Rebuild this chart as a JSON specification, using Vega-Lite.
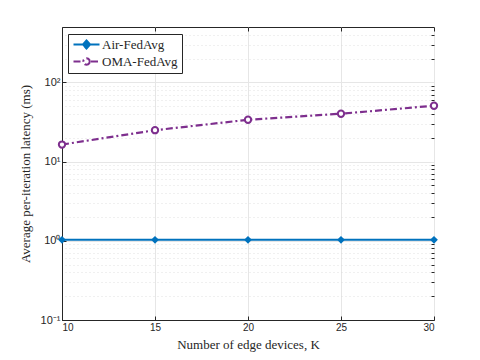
{
  "$schema": "https://vega.github.io/schema/vega-lite/v6.json",
  "width": 372,
  "height": 293,
  "autosize": {"type": "none"},
  "padding": {"left": 62, "top": 27, "right": 46, "bottom": 40},
  "background": "white",
  "config": {
    "view": {"stroke": "#262626", "strokeWidth": 1},
    "axis": {"domainColor": "#262626", "tickColor": "#262626", "labelColor": "#262626", "titleColor": "#262626", "labelFont": "Liberation Sans", "labelFontSize": 10, "titleFont": "Liberation Serif", "titleFontSize": 13, "titleFontWeight": "normal"}
  },
  "data": {"values": [
    {"K": 10, "latency": 1.03, "method": "Air-FedAvg"},
    {"K": 15, "latency": 1.03, "method": "Air-FedAvg"},
    {"K": 20, "latency": 1.03, "method": "Air-FedAvg"},
    {"K": 25, "latency": 1.03, "method": "Air-FedAvg"},
    {"K": 30, "latency": 1.03, "method": "Air-FedAvg"},
    {"K": 10, "latency": 16.4, "method": "OMA-FedAvg"},
    {"K": 15, "latency": 24.9, "method": "OMA-FedAvg"},
    {"K": 20, "latency": 33.7, "method": "OMA-FedAvg"},
    {"K": 25, "latency": 40.2, "method": "OMA-FedAvg"},
    {"K": 30, "latency": 50.7, "method": "OMA-FedAvg"}
  ]},
  "layer": [
    {
      "mark": {"type": "line", "opacity": 0},
      "encoding": {
        "x": {"field": "K", "type": "quantitative", "scale": {"domain": [10, 30], "nice": false}, "axis": {"orient": "top", "values": [10, 15, 20, 25, 30], "labels": false, "tickSize": -4, "grid": false, "title": null, "domain": false}},
        "y": {"field": "latency", "type": "quantitative", "scale": {"type": "log", "domain": [0.1, 500], "nice": false}, "axis": {"orient": "right", "values": [0.2, 0.3, 0.4, 0.5, 0.6, 0.7, 0.8, 0.9, 2, 3, 4, 5, 6, 7, 8, 9, 20, 30, 40, 50, 60, 70, 80, 90, 200, 300, 400], "labels": false, "tickSize": -3, "grid": true, "gridColor": "#d9d9d9", "gridDash": [1, 3], "gridWidth": 0.8, "title": null, "domain": false}}
      }
    },
    {
      "mark": {"type": "line", "strokeWidth": 2.2},
      "encoding": {
        "x": {"field": "K", "type": "quantitative", "scale": {"domain": [10, 30], "nice": false}, "axis": {"orient": "bottom", "values": [10, 15, 20, 25, 30], "tickSize": -4, "labelPadding": 6, "grid": true, "gridColor": "#e6e6e6", "title": "Number of edge devices,  K", "titlePadding": 6}},
        "y": {"field": "latency", "type": "quantitative", "scale": {"type": "log", "domain": [0.1, 500], "nice": false}, "axis": {"orient": "left", "values": [0.1, 1, 10, 100], "labelExpr": "datum.value == 100 ? '10²' : datum.value == 10 ? '10¹' : datum.value == 1 ? '10⁰' : '10⁻¹'", "labelFontSize": 11, "tickSize": -4, "labelPadding": 6, "grid": true, "gridColor": "#e6e6e6", "title": "Average per-iteration latency (ms)", "titlePadding": 8}},
        "color": {"field": "method", "type": "nominal", "scale": {"domain": ["Air-FedAvg", "OMA-FedAvg"], "range": ["#0072BD", "#7E2F8E"]}, "legend": {"title": null, "orient": "none", "legendX": 6, "legendY": 7, "strokeColor": "#262626", "fillColor": "white", "padding": 4, "labelFont": "Liberation Serif", "labelFontSize": 13, "labelColor": "#262626", "symbolType": "circle", "symbolSize": 100, "symbolStrokeWidth": 2, "labelOffset": 17, "rowPadding": 1, "encode": {"symbols": {"update": {"shape": {"signal": "datum.value == 'Air-FedAvg' ? 'M-1,0 L4.2,0 M1.6,-0.8 L2.3,0 L1.6,0.8 L0.9,0 Z' : 'M-1,0 L0.7,0 M2.5,0 L4.2,0 M2.25,0 L2.163,0.325 L1.925,0.563 L1.6,0.65 L1.275,0.563 L1.037,0.325 L0.95,0 L1.037,-0.325 L1.275,-0.563 L1.6,-0.65 L1.925,-0.563 L2.163,-0.325 Z'"}, "fill": {"signal": "datum.value == 'Air-FedAvg' ? '#0072BD' : 'white'"}, "strokeDash": {"value": []}, "opacity": {"value": 1}}}}}},
        "strokeDash": {"field": "method", "type": "nominal", "scale": {"domain": ["Air-FedAvg", "OMA-FedAvg"], "range": [[1, 0], [7, 3, 2, 3]]}, "legend": null}
      }
    },
    {
      "transform": [{"filter": "datum.method == 'Air-FedAvg'"}],
      "mark": {"type": "point", "shape": "diamond", "size": 60, "strokeWidth": 2, "opacity": 1, "color": "#0072BD", "fill": "#0072BD", "filled": true},
      "encoding": {
        "x": {"field": "K", "type": "quantitative", "axis": null},
        "y": {"field": "latency", "type": "quantitative", "axis": null}
      }
    },
    {
      "transform": [{"filter": "datum.method == 'OMA-FedAvg'"}],
      "mark": {"type": "point", "shape": "circle", "size": 40, "strokeWidth": 2, "opacity": 1, "stroke": "#7E2F8E", "fill": "white", "filled": true},
      "encoding": {
        "x": {"field": "K", "type": "quantitative", "axis": null},
        "y": {"field": "latency", "type": "quantitative", "axis": null}
      }
    }
  ]
}
